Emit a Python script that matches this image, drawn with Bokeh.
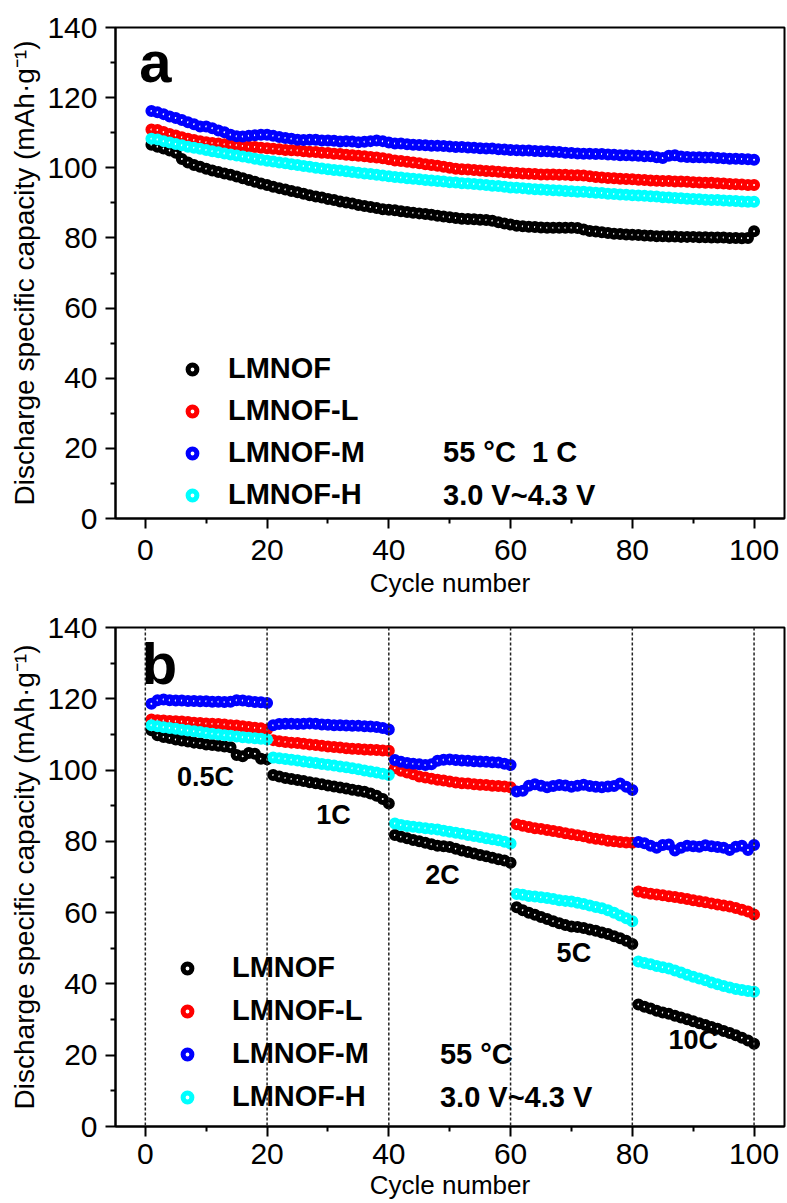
from bokeh.plotting import figure
from bokeh.layouts import column
from bokeh.models import Range1d, FixedTicker, Legend, LegendItem, Label, Span
from bokeh.embed import file_html
from bokeh.resources import INLINE

# ---------------- data ----------------
cycles = list(range(1, 101))
series_names = ["LMNOF", "LMNOF-L", "LMNOF-M", "LMNOF-H"]
series_colors = ["#000000", "#FF0000", "#0000FF", "#00FFFF"]

# Panel a: 55 C, 1 C cycling
a_lmnof = [106.6, 106.0, 105.5, 104.9, 104.3, 102.5, 101.5, 100.8, 100.3, 99.7,
           99.2, 98.8, 98.4, 98.0, 97.5, 97.0, 96.5, 96.0, 95.5, 95.1,
           94.6, 94.2, 93.8, 93.4, 93.0, 92.6, 92.2, 91.8, 91.5, 91.1,
           90.8, 90.4, 90.1, 89.8, 89.4, 89.1, 88.8, 88.5, 88.2, 88.0,
           87.9, 87.6, 87.4, 87.2, 87.0, 86.8, 86.6, 86.3, 86.1, 85.9,
           85.7, 85.5, 85.4, 85.3, 85.2, 85.1, 84.9, 84.5, 84.1, 83.8,
           83.5, 83.3, 83.2, 83.1, 83.0, 82.9, 82.9, 82.9, 82.9, 82.9,
           82.8, 82.4, 82.0, 81.8, 81.6, 81.4, 81.2, 81.1, 81.0, 80.9,
           80.8, 80.7, 80.6, 80.5, 80.5, 80.4, 80.4, 80.3, 80.3, 80.3,
           80.2, 80.2, 80.1, 80.1, 80.1, 80.0, 80.0, 79.9, 80.0, 81.9]
a_lmnof_l = [110.9, 110.8, 110.2, 109.6, 109.2, 108.7, 108.3, 107.9, 107.6, 107.3,
             107.1, 106.9, 106.7, 106.6, 106.4, 106.2, 106.0, 105.9, 105.7, 105.6,
             105.4, 105.3, 105.1, 105.0, 104.9, 104.7, 104.6, 104.5, 104.3, 104.2,
             104.0, 103.9, 103.7, 103.6, 103.4, 103.3, 103.1, 102.9, 102.7, 102.4,
             102.1, 101.9, 101.7, 101.5, 101.3, 101.0, 100.8, 100.6, 100.3, 100.0,
             99.7, 99.6, 99.5, 99.4, 99.2, 99.1, 99.0, 98.9, 98.7, 98.6,
             98.5, 98.4, 98.3, 98.2, 98.1, 98.1, 98.1, 98.0, 98.0, 97.9,
             97.9, 97.8, 97.6, 97.4, 97.2, 97.1, 97.0, 96.9, 96.8, 96.7,
             96.6, 96.5, 96.4, 96.3, 96.2, 96.2, 96.1, 96.1, 96.0, 95.9,
             95.8, 95.7, 95.7, 95.6, 95.5, 95.4, 95.3, 95.2, 95.1, 95.1]
a_lmnof_m = [116.2, 115.8, 115.3, 114.6, 114.2, 113.6, 113.0, 112.4, 111.8, 111.8,
             111.3, 110.6, 110.1, 109.4, 109.0, 108.9, 109.1, 109.3, 109.4, 109.4,
             109.1, 108.8, 108.5, 108.3, 108.0, 107.9, 108.0, 108.0, 107.8, 107.8,
             107.7, 107.5, 107.6, 107.5, 107.3, 107.4, 107.6, 107.8, 107.6, 107.2,
             106.9, 106.9, 106.7, 106.6, 106.5, 106.4, 106.3, 106.3, 106.2, 106.1,
             105.9, 105.9, 105.8, 105.7, 105.6, 105.5, 105.5, 105.3, 105.2, 105.1,
             105.0, 104.9, 104.9, 104.8, 104.7, 104.7, 104.6, 104.5, 104.3, 104.2,
             104.1, 104.0, 104.0, 103.9, 103.9, 103.8, 103.7, 103.6, 103.6, 103.5,
             103.4, 103.3, 103.3, 103.0, 102.8, 103.4, 103.6, 103.2, 103.1, 103.0,
             103.0, 102.9, 102.9, 102.8, 102.7, 102.6, 102.6, 102.5, 102.4, 102.3]
a_lmnof_h = [108.3, 108.1, 107.6, 107.2, 106.8, 106.4, 106.0, 105.7, 105.4, 105.1,
             104.7, 104.4, 104.1, 103.8, 103.5, 103.2, 102.9, 102.6, 102.3, 102.0,
             101.8, 101.5, 101.3, 101.0, 100.8, 100.5, 100.3, 100.0, 99.8, 99.6,
             99.4, 99.2, 99.0, 98.8, 98.6, 98.4, 98.2, 98.0, 97.8, 97.6,
             97.4, 97.2, 97.0, 96.9, 96.7, 96.5, 96.4, 96.2, 96.1, 95.9,
             95.8, 95.6, 95.5, 95.4, 95.2, 95.1, 94.9, 94.8, 94.6, 94.4,
             94.3, 94.2, 94.0, 93.9, 93.8, 93.7, 93.6, 93.5, 93.4, 93.3,
             93.2, 93.2, 93.0, 92.9, 92.8, 92.6, 92.5, 92.4, 92.3, 92.2,
             92.1, 92.0, 91.9, 91.8, 91.6, 91.5, 91.4, 91.3, 91.2, 91.1,
             91.0, 90.9, 90.8, 90.8, 90.7, 90.6, 90.5, 90.4, 90.3, 90.3]

# Panel b: rate capability (0.5C, 1C, 2C, 5C, 10C; 20 cycles each)
b_lmnof = [111.2, 109.8, 109.3, 109.0, 108.6, 108.3, 108.0, 107.7, 107.5, 107.2,
           107.0, 106.8, 106.6, 106.4, 104.2, 103.9, 104.8, 104.6, 103.2, 103.0,
           98.6, 98.2, 97.8, 97.5, 97.2, 96.9, 96.6, 96.3, 96.0, 95.7,
           95.4, 95.1, 94.8, 94.5, 94.2, 93.9, 93.4, 92.8, 91.9, 90.6,
           81.8, 81.3, 80.9, 80.4, 80.0, 79.6, 79.2, 78.8, 78.6, 78.4,
           77.9, 77.4, 77.0, 76.6, 76.2, 75.8, 75.4, 75.0, 74.6, 74.0,
           61.5, 60.7, 60.0, 59.4, 58.8, 58.2, 57.6, 57.0, 56.5, 56.1,
           56.0, 55.7, 55.3, 54.9, 54.4, 54.0, 53.4, 52.8, 52.1, 51.2,
           34.2, 33.6, 33.1, 32.5, 32.0, 31.6, 31.1, 30.6, 30.1, 29.5,
           29.0, 28.5, 27.9, 27.4, 26.8, 26.2, 25.6, 24.9, 24.1, 23.2]
b_lmnof_l = [114.2, 114.0, 113.9, 113.8, 113.7, 113.6, 113.5, 113.3, 113.2, 113.1,
             113.0, 112.9, 112.8, 112.6, 112.5, 112.3, 112.1, 111.9, 111.7, 111.4,
             108.4, 108.1, 107.9, 107.7, 107.6, 107.4, 107.2, 107.0, 106.8, 106.6,
             106.5, 106.3, 106.1, 106.0, 105.9, 105.8, 105.7, 105.6, 105.5, 105.4,
             100.5, 99.8, 99.3, 98.8, 98.2, 97.9, 97.6, 97.3, 97.1, 96.8,
             96.5, 96.3, 96.2, 96.0, 95.9, 95.8, 95.6, 95.5, 95.4, 95.2,
             84.8, 84.4, 84.0, 83.7, 83.5, 83.2, 82.9, 82.6, 82.3, 82.0,
             81.7, 81.4, 81.0, 80.7, 80.5, 80.2, 80.0, 79.8, 79.7, 79.6,
             65.9, 65.6, 65.3, 65.1, 64.9, 64.6, 64.4, 64.1, 63.8, 63.5,
             63.2, 62.9, 62.6, 62.3, 62.0, 61.7, 61.3, 60.8, 60.3, 59.5]
b_lmnof_m = [118.6, 119.6, 119.8, 119.6, 119.5, 119.5, 119.4, 119.4, 119.3, 119.3,
             119.2, 119.2, 119.1, 119.2, 119.6, 119.5, 119.3, 119.1, 119.0, 118.8,
             112.6, 112.9, 113.0, 113.0, 112.9, 113.0, 113.1, 113.0, 112.8, 112.7,
             112.6, 112.6, 112.5, 112.4, 112.4, 112.3, 112.2, 112.1, 111.8, 111.4,
             102.8, 102.3, 102.0, 101.8, 101.6, 101.4, 101.6, 102.6, 102.9, 103.0,
             102.8, 102.7, 102.6, 102.5, 102.4, 102.3, 102.2, 102.1, 101.8, 101.4,
             94.0, 94.2, 95.6, 96.0, 95.6, 95.2, 95.5, 95.8, 95.7, 95.3,
             95.6, 95.9, 95.5, 95.3, 95.2, 95.4, 95.5, 96.2, 95.3, 94.4,
             79.8, 79.5, 78.8, 78.2, 79.0, 79.1, 77.4, 78.2, 78.8, 78.6,
             78.5, 78.9, 78.6, 78.4, 78.2, 77.6, 78.5, 78.8, 77.6, 79.0]
b_lmnof_h = [112.6, 112.3, 112.0, 111.8, 111.6, 111.3, 111.1, 110.9, 110.7, 110.4,
             110.2, 110.0, 109.8, 109.6, 109.4, 109.2, 109.1, 108.9, 108.8, 108.6,
             103.5, 103.3, 103.1, 102.9, 102.7, 102.4, 102.2, 102.0, 101.7, 101.5,
             101.3, 101.0, 100.8, 100.5, 100.2, 99.9, 99.6, 99.3, 99.0, 98.6,
             85.0, 84.6, 84.3, 84.1, 83.9, 83.7, 83.5, 83.3, 83.0, 82.7,
             82.4, 82.1, 81.8, 81.5, 81.2, 80.9, 80.6, 80.3, 79.9, 79.4,
             65.2, 65.0, 64.7, 64.5, 64.3, 64.1, 63.8, 63.5, 63.3, 63.1,
             62.8, 62.4, 62.0, 61.6, 61.2, 60.7, 60.0, 59.2, 58.4, 57.6,
             46.3, 45.9, 45.5, 45.0, 44.7, 44.3, 43.8, 43.2, 42.6, 42.0,
             41.5, 41.0, 40.4, 39.9, 39.4, 39.0, 38.6, 38.3, 38.0, 37.8]

rate_bounds = [0, 20, 40, 60, 80, 100]
rate_labels = ["0.5C", "1C", "2C", "5C", "10C"]
rate_label_x = [9.9, 30.9, 48.8, 70.4, 90.0]
rate_label_y = [98.0, 87.4, 70.6, 48.7, 24.4]

x_major = [0, 20, 40, 60, 80, 100]
x_minor = [10, 30, 50, 70, 90]
y_major = [0, 20, 40, 60, 80, 100, 120, 140]
y_minor = [10, 30, 50, 70, 90, 110, 130]

FONT = "Liberation Sans"
NB = "\u00a0"


def make_fig(height, top, bottom, x_standoff, x_label_standoff):
    p = figure(width=786, height=height, output_backend="svg", toolbar_location=None,
               x_range=Range1d(-4.9, 105.0), y_range=Range1d(0, 140),
               min_border_left=115, min_border_right=2,
               min_border_top=top, min_border_bottom=bottom)
    p.grid.visible = False
    p.outline_line_color = "black"
    p.outline_line_width = 2
    p.outline_line_alpha = 1
    p.background_fill_color = "white"
    p.border_fill_color = "white"
    p.xaxis.ticker = FixedTicker(ticks=x_major, minor_ticks=x_minor)
    p.yaxis.ticker = FixedTicker(ticks=y_major, minor_ticks=y_minor)
    p.xaxis.axis_label = "Cycle number"
    p.yaxis.axis_label = "Discharge specific capacity (mAh\u00b7g\u207b\u00b9)"
    for ax in (p.xaxis[0], p.yaxis[0]):
        ax.axis_line_width = 2
        ax.axis_line_color = "black"
        ax.major_tick_line_width = 2
        ax.minor_tick_line_width = 2
        ax.major_tick_line_color = "black"
        ax.minor_tick_line_color = "black"
        ax.major_tick_out = 10
        ax.major_tick_in = 0
        ax.minor_tick_out = 5
        ax.minor_tick_in = 0
        ax.major_label_text_font = FONT
        ax.major_label_text_font_size = "30px"
        ax.major_label_text_color = "black"
        ax.axis_label_text_font = FONT
        ax.axis_label_text_font_style = "normal"
        ax.axis_label_text_color = "black"
    p.xaxis.axis_label_text_font_size = "26px"
    p.yaxis.axis_label_text_font_size = "28px"
    p.xaxis.major_label_standoff = x_standoff
    p.xaxis.axis_label_standoff = x_label_standoff
    p.yaxis.major_label_standoff = 8
    p.yaxis.axis_label_standoff = 4
    return p


def add_series(p, ys_list):
    rends = []
    for ys, col in zip(ys_list, series_colors):
        r = p.scatter(x=cycles, y=ys, marker="circle", size=7,
                      fill_color="white", line_color=col, line_width=5)
        rends.append(r)
    return rends


def add_legend(p, rends, loc, standoff, spacing):
    items = [LegendItem(label=n, renderers=[r]) for n, r in zip(series_names, rends)]
    lg = Legend(items=items, location=loc, orientation="vertical",
                glyph_width=22, glyph_height=30, label_height=30,
                label_standoff=standoff, spacing=spacing, padding=0, margin=0,
                border_line_alpha=0, background_fill_alpha=0,
                label_text_font=FONT, label_text_font_size="29px",
                label_text_font_style="bold", label_text_color="black",
                label_text_baseline="middle")
    p.add_layout(lg)


def add_text(p, x, y, txt, size, align="left"):
    p.add_layout(Label(x=x, y=y, text=txt, text_font=FONT, text_font_size=size,
                       text_font_style="bold", text_color="black",
                       text_align=align, text_baseline="middle"))


# ---------------- panel a ----------------
pa = make_fig(600, 27, 78, 11, 5)
ra = add_series(pa, [a_lmnof, a_lmnof_l, a_lmnof_m, a_lmnof_h])
add_legend(pa, ra, (66, 7), 25, 9)
add_text(pa, -1.0, 130.2, "a", "58px")
add_text(pa, 48.9, 18.9, "55" + NB + "\u00b0C" + NB + NB + "1" + NB + "C", "29px")
add_text(pa, 48.9, 6.8, "3.0" + NB + "V~4.3" + NB + "V", "29px")

# ---------------- panel b ----------------
pb = make_fig(602, 27, 72, 7, 3)
for b in rate_bounds:
    pb.add_layout(Span(location=b, dimension="height", line_color="#222222",
                       line_width=1.5, line_dash="3 2"))
rb = add_series(pb, [b_lmnof, b_lmnof_l, b_lmnof_m, b_lmnof_h])
add_legend(pb, rb, (61, 13), 34, 10)
add_text(pb, -0.6, 129.9, "b", "58px")
for t, x, y in zip(rate_labels, rate_label_x, rate_label_y):
    add_text(pb, x, y, t, "27px", align="center")
add_text(pb, 48.4, 20.4, "55" + NB + "\u00b0C", "29px")
add_text(pb, 48.4, 8.4, "3.0" + NB + "V~4.3" + NB + "V", "29px")

layout = column(pa, pb, spacing=0)
open("out.html", "w").write(file_html(layout, INLINE))
